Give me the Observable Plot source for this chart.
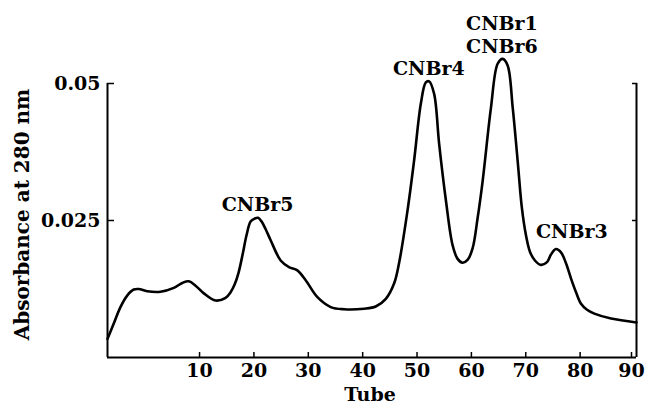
<!DOCTYPE html>
<html><head><meta charset="utf-8">
<script src="https://cdn.jsdelivr.net/npm/d3@7"></script>
<script src="https://cdn.jsdelivr.net/npm/@observablehq/plot@0.6"></script>
<style>html,body{margin:0;padding:0;background:#fff;} svg{display:block}</style>
</head><body><div id="chart"></div>
<script>
const tube = [-7.3, -6.15, -4.92, -3.68, -2.47, -1.55, 0, 2.45, 4.9, 6.45, 7.66, 8.9, 10.42, 12.58, 14.42, 15.34, 16.08, 16.81, 17.55, 18.29, 19.02, 19.76, 20.4, 21.05, 21.79, 22.71, 24.55, 26.08, 27.62, 29.15, 31.31, 33.76, 36.2, 39.89, 42.04, 43.89, 45.41, 46.34, 47.88, 49.1, 50.33, 51.25, 51.86, 52.78, 53.7, 54.94, 56.17, 57.09, 58.01, 58.93, 59.85, 60.77, 61.69, 63.22, 64.46, 65.38, 66.3, 67.22, 68.14, 68.93, 69.67, 70.4, 71.32, 72.43, 73.54, 74.27, 75.19, 76.11, 77.03, 77.96, 78.88, 79.8, 80.9, 82.25, 85.32, 90];
const absorbance = [0.0034, 0.0062, 0.0092, 0.0113, 0.0124, 0.0125, 0.0121, 0.0120, 0.0127, 0.0136, 0.0139, 0.0131, 0.0117, 0.0104, 0.0109, 0.0119, 0.0133, 0.0155, 0.0188, 0.0224, 0.0248, 0.02535, 0.0255, 0.0248, 0.0234, 0.0214, 0.0177, 0.0165, 0.0159, 0.0141, 0.011, 0.0092, 0.0088, 0.0089, 0.0093, 0.0107, 0.0135, 0.0173, 0.0268, 0.036, 0.0463, 0.0502, 0.0504, 0.0481, 0.039, 0.0287, 0.0205, 0.0180, 0.0173, 0.0178, 0.0199, 0.0254, 0.0321, 0.0455, 0.0536, 0.0545, 0.0533, 0.0457, 0.0359, 0.0272, 0.0223, 0.0193, 0.0177, 0.0169, 0.0174, 0.0188, 0.0198, 0.0192, 0.0172, 0.0144, 0.0119, 0.0098, 0.0087, 0.008, 0.0071, 0.0064];
const xTicksInner = [10, 20, 30, 40, 50, 60, 70, 80];
const xTickLast = [90];
const yTicks = [0.025, 0.05];
const yTickLabels = ["0.025", "0.05"];
const peakNames = ["CNBr5", "CNBr4", "CNBr1\nCNBr6", "CNBr3"];
const peakTube = [20.3, 51.8, 65.25, 78.1];
const peakAbs = [0.0281, 0.0529, 0.0590, 0.0232];
const xDomain = [-7.3, 90];
const yDomain = [0, 0.05];
const xTitle = "Tube";
const yTitle = "Absorbance at 280 nm";

const curve = tube.map((t, i) => ({t, a: absorbance[i]}));
const peaks = peakNames.map((n, i) => ({n, t: peakTube[i], a: peakAbs[i]}));

const chart = Plot.plot({
  width: 645,
  height: 404,
  marginLeft: 107,
  marginRight: 9,
  marginTop: 83,
  marginBottom: 47,
  style: {font: "bold 19px 'DejaVu Serif', serif", background: "#fff", color: "#000"},
  x: {domain: xDomain},
  y: {domain: yDomain},
  marks: [
    Plot.axisX(xTicksInner, {anchor: "bottom", tickSize: -5, tickPadding: 11, label: null, strokeWidth: 1.5, dx: -2}),
    Plot.axisX(xTickLast, {anchor: "bottom", tickSize: -5, tickPadding: 11, label: null, strokeWidth: 1.5, dx: -5}),
    Plot.axisY(yTicks, {anchor: "left", tickSize: -7, tickPadding: 14, label: null, strokeWidth: 1.5,
      tickFormat: d => yTickLabels[yTicks.indexOf(d)]}),
    Plot.axisY(yTicks, {anchor: "right", tickSize: -5, label: null, strokeWidth: 1.5, tickFormat: () => ""}),
    Plot.ruleY([yDomain[0]], {strokeWidth: 2.2}),
    Plot.ruleX([xDomain[0], xDomain[1]], {y1: yDomain[0], y2: yDomain[1], strokeWidth: 2}),
    Plot.line(curve, {x: "t", y: "a", curve: "catmull-rom", strokeWidth: 2.6, stroke: "#000"}),
    Plot.text(peaks, {x: "t", y: "a", text: "n", lineHeight: 1.2, fill: "#000"}),
    Plot.text([xTitle], {frameAnchor: "bottom", lineAnchor: "middle", dy: 37, dx: -2, fill: "#000"}),
    Plot.text([yTitle], {frameAnchor: "left", textAnchor: "middle", lineAnchor: "middle", rotate: -90, dx: -85, dy: -6, fontSize: 20, fill: "#000"})
  ]
});
document.getElementById("chart").appendChild(chart);
</script>
</body></html>
